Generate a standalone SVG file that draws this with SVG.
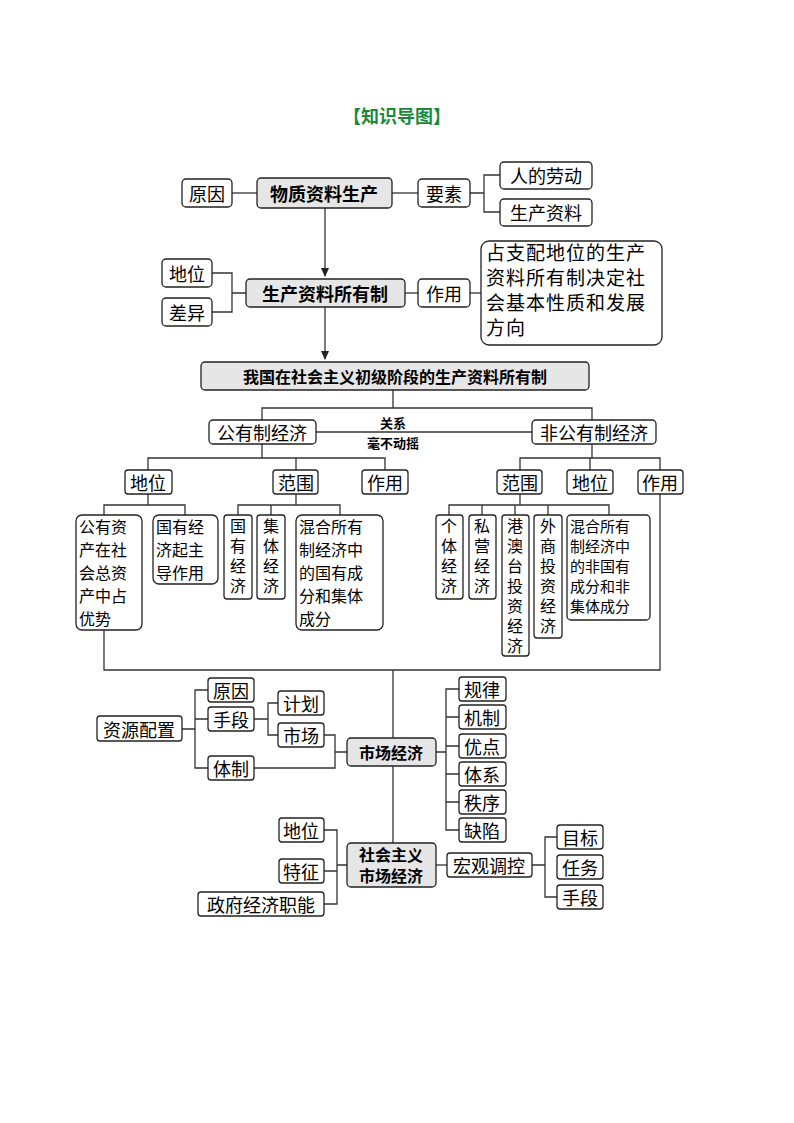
<svg xmlns="http://www.w3.org/2000/svg" width="794" height="1123" viewBox="0 0 794 1123">
<style>
text{font-family:"Noto Sans CJK SC","Liberation Sans",sans-serif;fill:#000}
.b{fill:#fff;stroke:#222;stroke-width:1.3}
.g{fill:#e6e6e6;stroke:#222;stroke-width:1.3}
.t{font-size:18px;text-anchor:middle;dominant-baseline:central}
.s{font-size:16px}
.v{font-size:16px;writing-mode:vertical-rl;letter-spacing:4px}
.bold{font-weight:bold}
.c line,.c path{stroke:#333;stroke-width:1.3;fill:none}
</style>
<defs><marker id="ar" markerWidth="10" markerHeight="10" refX="8" refY="5" orient="auto" markerUnits="userSpaceOnUse"><path d="M0,1 L9,5 L0,9z" fill="#222"/></marker></defs>
<text x="397" y="115" text-anchor="middle" dominant-baseline="central" font-size="18" font-weight="bold" style="fill:#1a8a3a">【知识导图】</text>
<g class="c">
<line x1="232" y1="193" x2="257" y2="193"/><line x1="392" y1="193" x2="418" y2="193"/>
<path d="M470,193H484M500,175H484V212H500"/>
<line x1="325" y1="208" x2="325" y2="276" marker-end="url(#ar)"/>
<path d="M212,273H232V312H212M232,293H246"/>
<line x1="405" y1="293" x2="418" y2="293"/><line x1="470" y1="293" x2="481" y2="293"/>
<line x1="325" y1="307" x2="325" y2="359" marker-end="url(#ar)"/>
<path d="M393,390V408M262,420V408H592V420"/>
<line x1="316" y1="432" x2="532" y2="432"/>
<path d="M262,444V458M148,470V458H385V470M296,458V470"/>
<path d="M592,444V458M520,470V458H660V470M590,458V470"/>
<path d="M148,494V505M104,515V505H185V515"/>
<path d="M296,494V505M238,515V505H340V515M271,505V515"/>
<path d="M520,494V505M449,515V505H609V515M482,505V515M515,505V515M548,505V515"/>
<path d="M104,630V670H660V494M393,670V738M393,766V843"/>
<path d="M436,752H446M459,689H446V830H459M446,717H459M446,746H459M446,774H459M446,802H459"/>
<path d="M182,729H195M208,690H195V768H208M195,719H208"/>
<path d="M254,719H268M278,703H268V735H278"/>
<path d="M324,735H335V768H254M335,752H347"/>
<path d="M324,830H337V904H324M324,871H337M337,865H347"/>
<line x1="436" y1="865" x2="447" y2="865"/>
<path d="M532,865H545M557,837H545V897H557"/>
</g>
<g id="n1"><rect class="b" x="182" y="179" width="50" height="28" rx="4"/><text class="t" x="207" y="193">原因</text></g>
<g id="n2"><rect class="g" x="257" y="178" width="135" height="30" rx="4"/><text class="t bold" x="324" y="193">物质资料生产</text></g>
<g id="n3"><rect class="b" x="418" y="179" width="52" height="28" rx="4"/><text class="t" x="444" y="193">要素</text></g>
<g id="n4"><rect class="b" x="500" y="162" width="92" height="27" rx="4"/><text class="t" x="546" y="175">人的劳动</text></g>
<g id="n5"><rect class="b" x="500" y="199" width="92" height="27" rx="4"/><text class="t" x="546" y="212">生产资料</text></g>
<g id="n6"><rect class="b" x="162" y="259" width="50" height="28" rx="4"/><text class="t" x="187" y="273">地位</text></g>
<g id="n7"><rect class="b" x="162" y="298" width="50" height="28" rx="4"/><text class="t" x="187" y="312">差异</text></g>
<g id="n8"><rect class="g" x="246" y="279" width="159" height="28" rx="4"/><text class="t bold" x="325" y="293">生产资料所有制</text></g>
<g id="n9"><rect class="b" x="418" y="279" width="52" height="28" rx="4"/><text class="t" x="444" y="293">作用</text></g>
<g id="n10"><rect class="b" x="481" y="241" width="181" height="104" rx="8"/><text style="font-size:19px;letter-spacing:1px"><tspan x="486" y="260">占支配地位的生产</tspan><tspan x="486" y="285">资料所有制决定社</tspan><tspan x="486" y="310">会基本性质和发展</tspan><tspan x="486" y="335">方向</tspan></text></g>
<g id="n11"><rect class="g" x="201" y="362" width="388" height="28" rx="4"/><text class="t bold" x="395" y="376" style="font-size:16px">我国在社会主义初级阶段的生产资料所有制</text></g>
<g id="n12"><rect class="b" x="209" y="420" width="107" height="24" rx="4"/><text class="t" x="262" y="432">公有制经济</text></g>
<g id="n13"><rect class="b" x="532" y="420" width="124" height="24" rx="4"/><text class="t" x="594" y="432">非公有制经济</text></g>
<text x="393" y="422" text-anchor="middle" dominant-baseline="central" font-size="13" font-weight="bold">关系</text>
<text x="393" y="442" text-anchor="middle" dominant-baseline="central" font-size="13" font-weight="bold">毫不动摇</text>
<g id="n14"><rect class="b" x="125" y="470" width="47" height="24" rx="3"/><text class="t" x="148" y="482">地位</text></g>
<g id="n15"><rect class="b" x="273" y="470" width="45" height="24" rx="3"/><text class="t" x="296" y="482">范围</text></g>
<g id="n16"><rect class="b" x="362" y="470" width="46" height="24" rx="3"/><text class="t" x="385" y="482">作用</text></g>
<g id="n17"><rect class="b" x="497" y="470" width="45" height="24" rx="3"/><text class="t" x="520" y="482">范围</text></g>
<g id="n18"><rect class="b" x="567" y="470" width="46" height="24" rx="3"/><text class="t" x="590" y="482">地位</text></g>
<g id="n19"><rect class="b" x="638" y="470" width="45" height="24" rx="3"/><text class="t" x="660" y="482">作用</text></g>
<g id="n20"><rect class="b" x="76" y="515" width="66" height="115" rx="6"/><text class="s"><tspan x="79" y="533">公有资</tspan><tspan x="79" y="556">产在社</tspan><tspan x="79" y="579">会总资</tspan><tspan x="79" y="602">产中占</tspan><tspan x="79" y="625">优势</tspan></text></g>
<g id="n21"><rect class="b" x="153" y="515" width="65" height="69" rx="6"/><text class="s"><tspan x="156" y="533">国有经</tspan><tspan x="156" y="556">济起主</tspan><tspan x="156" y="579">导作用</tspan></text></g>
<g id="n22"><rect class="b" x="224" y="515" width="28" height="84" rx="3"/><text class="v" x="238" y="518">国有经济</text></g>
<g id="n23"><rect class="b" x="257" y="515" width="28" height="84" rx="3"/><text class="v" x="271" y="518">集体经济</text></g>
<g id="n24"><rect class="b" x="296" y="515" width="87" height="115" rx="6"/><text class="s"><tspan x="299" y="533">混合所有</tspan><tspan x="299" y="556">制经济中</tspan><tspan x="299" y="579">的国有成</tspan><tspan x="299" y="602">分和集体</tspan><tspan x="299" y="625">成分</tspan></text></g>
<g id="n25"><rect class="b" x="436" y="515" width="27" height="84" rx="3"/><text class="v" x="449" y="518">个体经济</text></g>
<g id="n26"><rect class="b" x="469" y="515" width="27" height="84" rx="3"/><text class="v" x="482" y="518">私营经济</text></g>
<g id="n27"><rect class="b" x="502" y="515" width="27" height="141" rx="3"/><text class="v" x="515" y="518">港澳台投资经济</text></g>
<g id="n28"><rect class="b" x="534" y="515" width="28" height="123" rx="3"/><text class="v" x="548" y="518">外商投资经济</text></g>
<g id="n29"><rect class="b" x="567" y="515" width="83" height="105" rx="4"/><text style="font-size:15px"><tspan x="570" y="532">混合所有</tspan><tspan x="570" y="552">制经济中</tspan><tspan x="570" y="572">的非国有</tspan><tspan x="570" y="592">成分和非</tspan><tspan x="570" y="612">集体成分</tspan></text></g>
<g id="n30"><rect class="g" x="347" y="738" width="89" height="28" rx="4"/><text class="t bold" x="391" y="752" style="font-size:16px">市场经济</text></g>
<g id="n31"><rect class="b" x="459" y="677" width="47" height="24" rx="3"/><text class="t" x="482" y="689">规律</text></g>
<g id="n32"><rect class="b" x="459" y="705" width="47" height="24" rx="3"/><text class="t" x="482" y="717">机制</text></g>
<g id="n33"><rect class="b" x="459" y="734" width="47" height="24" rx="3"/><text class="t" x="482" y="746">优点</text></g>
<g id="n34"><rect class="b" x="459" y="762" width="47" height="24" rx="3"/><text class="t" x="482" y="774">体系</text></g>
<g id="n35"><rect class="b" x="459" y="790" width="47" height="24" rx="3"/><text class="t" x="482" y="802">秩序</text></g>
<g id="n36"><rect class="b" x="459" y="818" width="47" height="24" rx="3"/><text class="t" x="482" y="830">缺陷</text></g>
<g id="n37"><rect class="b" x="97" y="716" width="85" height="25" rx="3"/><text class="t" x="139" y="729">资源配置</text></g>
<g id="n38"><rect class="b" x="208" y="678" width="46" height="24" rx="3"/><text class="t" x="231" y="690">原因</text></g>
<g id="n39"><rect class="b" x="208" y="707" width="46" height="24" rx="3"/><text class="t" x="231" y="719">手段</text></g>
<g id="n40"><rect class="b" x="208" y="756" width="46" height="24" rx="3"/><text class="t" x="231" y="768">体制</text></g>
<g id="n41"><rect class="b" x="278" y="691" width="46" height="24" rx="3"/><text class="t" x="301" y="703">计划</text></g>
<g id="n42"><rect class="b" x="278" y="723" width="46" height="24" rx="3"/><text class="t" x="301" y="735">市场</text></g>
<g id="n43"><rect class="g" x="347" y="843" width="89" height="44" rx="4"/><text class="bold" font-size="16" text-anchor="middle"><tspan x="391" y="861">社会主义</tspan><tspan x="391" y="882">市场经济</tspan></text></g>
<g id="n44"><rect class="b" x="279" y="818" width="45" height="24" rx="3"/><text class="t" x="301" y="830">地位</text></g>
<g id="n45"><rect class="b" x="279" y="859" width="45" height="24" rx="3"/><text class="t" x="301" y="871">特征</text></g>
<g id="n46"><rect class="b" x="198" y="892" width="126" height="24" rx="3"/><text class="t" x="261" y="904">政府经济职能</text></g>
<g id="n47"><rect class="b" x="447" y="853" width="85" height="24" rx="3"/><text class="t" x="489" y="865">宏观调控</text></g>
<g id="n48"><rect class="b" x="557" y="825" width="46" height="24" rx="3"/><text class="t" x="580" y="837">目标</text></g>
<g id="n49"><rect class="b" x="557" y="855" width="46" height="24" rx="3"/><text class="t" x="580" y="867">任务</text></g>
<g id="n50"><rect class="b" x="557" y="885" width="46" height="24" rx="3"/><text class="t" x="580" y="897">手段</text></g>
</svg>
